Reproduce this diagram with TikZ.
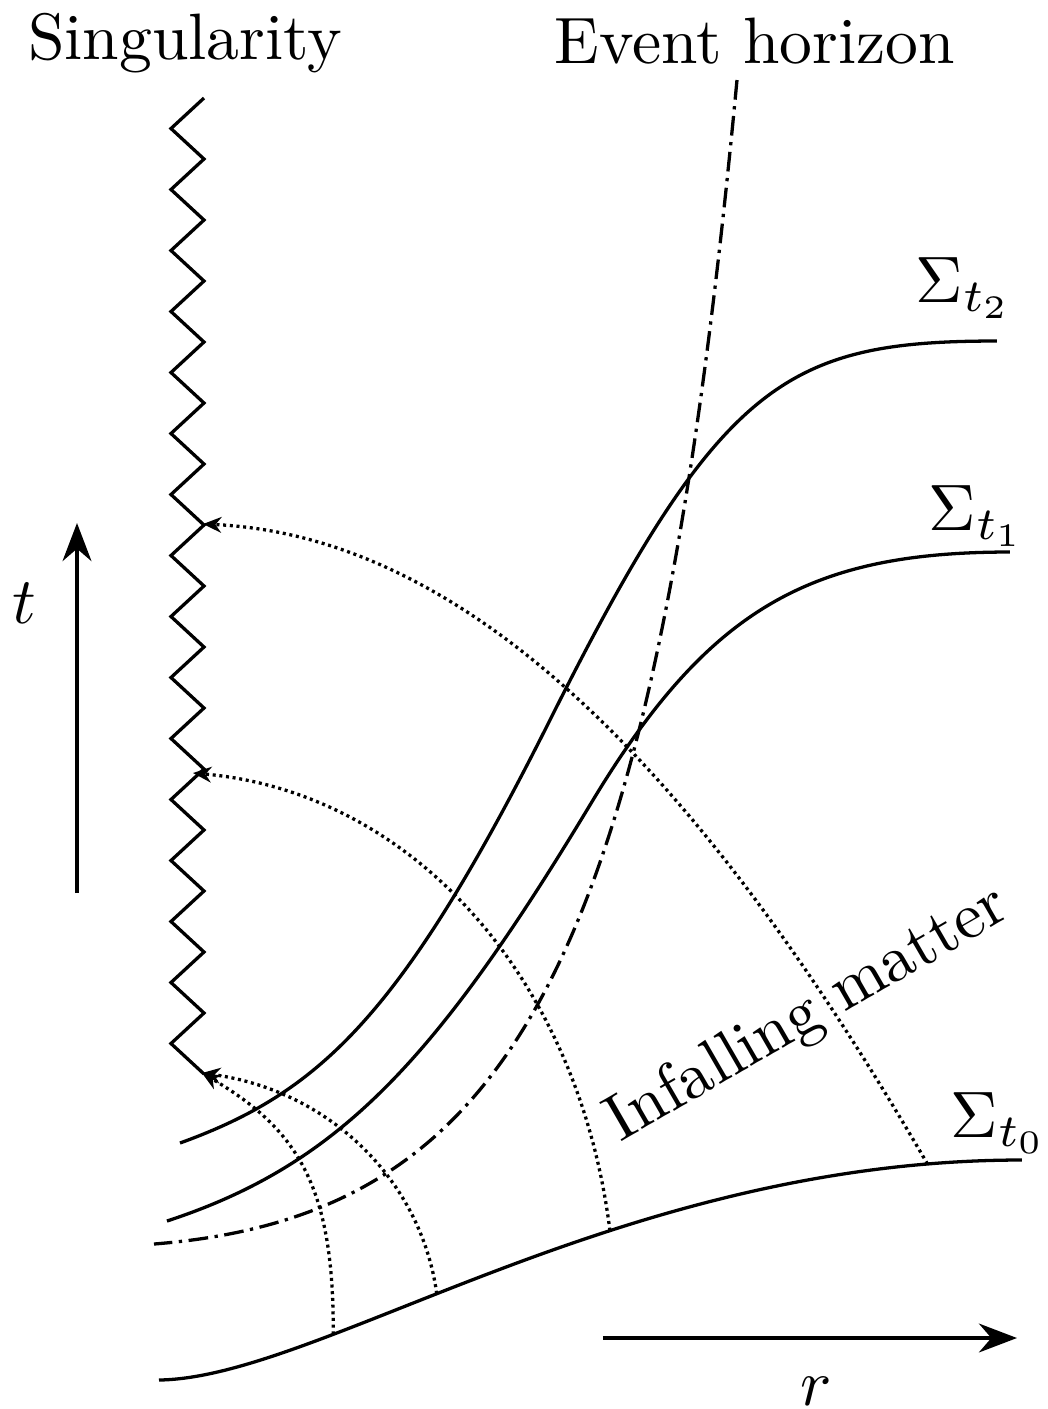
\documentclass[tikz,border=0pt]{standalone}
\usetikzlibrary{arrows.meta}
\tikzset{
  surface/.style={line width=0.5pt},
  infall/.style={line width=0.5pt,dash pattern=on 0.46pt off 0.56pt,-{Stealth[length=2.8pt,width=2.4pt]}},
  horizon/.style={line width=0.5pt,dash pattern=on 3pt off 1pt on 0.5pt off 1pt},
  axis/.style={line width=0.5pt,-{Stealth[length=5.8pt,width=4.4pt]}}
}
\begin{document}
\begin{tikzpicture}[x=0.1524pt,y=0.1524pt]
\useasboundingbox (0,0) rectangle (1048,-1409);
\draw[surface] (204,-98) \foreach \k in {0,...,15} {-- (171,{-128.5-61*\k}) -- (204,{-159-61*\k})};
\coordinate (s1) at (203,-524);
\coordinate (s2) at (193,-773);
\coordinate (s3) at (202,-1073);
\node[anchor=base] (sing) at (185,-59) {Singularity};
\node[anchor=base] (eh) at (755,-63) {Event horizon};
\draw[surface] (159,-1380) .. controls (320,-1378) and (620,-1160) .. (1022,-1160)
  coordinate[pos=0.29] (a4) coordinate[pos=0.425] (a3) coordinate[pos=0.62] (a2) coordinate[pos=0.92] (a1);
\draw[surface] (167,-1221) .. controls (338,-1165) and (435,-1062) .. (590,-805)
  .. controls (708,-608) and (810,-552) .. (1010,-552);
\draw[surface] (180,-1143) .. controls (321,-1092) and (402,-1015) .. (550,-720)
  .. controls (720,-380) and (787,-341) .. (997,-341);
\draw[horizon] (737,-80) .. controls (655,-950) and (520,-1215) .. (154,-1244);
\draw[infall] (a1) .. controls (725,-815) and (490,-537) .. (s1);
\draw[infall] (a2) .. controls (578,-975) and (410,-792) .. (s2);
\draw[infall] (a3) .. controls (421,-1180) and (330,-1091) .. (s3);
\draw[infall] (a4) .. controls (334,-1188) and (299,-1130) .. (s3);
\node[anchor=base] (lab2) at (964,-302) {$\Sigma_{t_2}$};
\node[anchor=base] (lab1) at (977,-530) {$\Sigma_{t_1}$};
\node[anchor=base] (lab0) at (999,-1137) {$\Sigma_{t_0}$};
\node[rotate=30] (matter) at (808,-1015) {Infalling matter};
\coordinate (tlow) at (77,-893);
\coordinate (thigh) at (77,-523);
\draw[axis] (tlow) -- (thigh);
\node[anchor=base] (tlab) at (24,-623) {$t$};
\coordinate (rlow) at (603,-1338);
\coordinate (rhigh) at (1017,-1338);
\draw[axis] (rlow) -- (rhigh);
\node[anchor=base] (rlab) at (816,-1405) {$r$};
\end{tikzpicture}
\end{document}
